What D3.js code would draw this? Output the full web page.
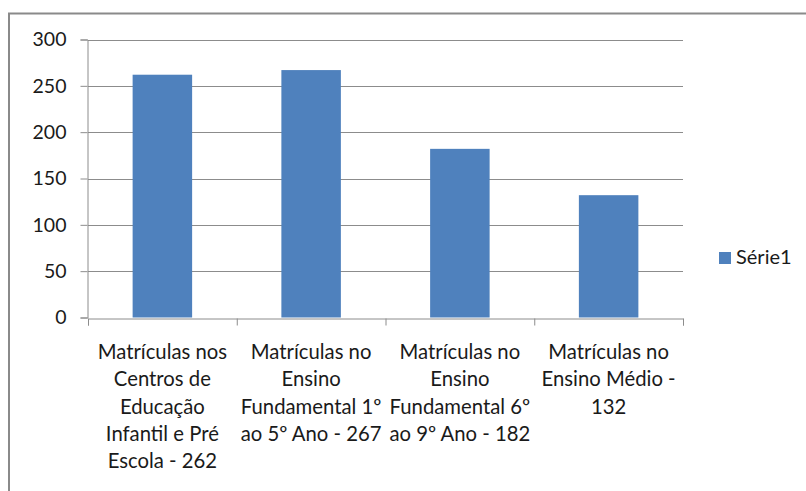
<!DOCTYPE html>
<html>
<head>
<meta charset="utf-8">
<script src="https://cdn.jsdelivr.net/npm/d3@7"></script>
<style>
  body { margin: 0; background: #fff; }
  svg text { font-family: Lato, "Open Sans", sans-serif; fill: #1a1a1a; }
</style>
</head>
<body>
<div id="chart"></div>
<script>
const categories = [
    ['Matrículas nos', 'Centros de', 'Educação', 'Infantil e Pré', 'Escola - 262'],
    ['Matrículas no', 'Ensino', 'Fundamental 1º', 'ao 5º Ano - 267'],
    ['Matrículas no', 'Ensino', 'Fundamental 6º', 'ao 9º Ano - 182'],
    ['Matrículas no', 'Ensino Médio -', '132']
];
const values = [262, 267, 182, 132];
const yTicks = [0, 50, 100, 150, 200, 250, 300];
const seriesName = 'Série1';

const width = 806;
const height = 491;
const margin = { top: 39.5, bottom: 173.5, left: 88, right: 123 };

const svg = d3.select('#chart')
    .append('svg')
    .attr('width', width)
    .attr('height', height);

// outer chart frame (only top and left edges visible)
svg.append('path')
    .attr('d', `M9,${height} V13.5 H${width}`)
    .attr('fill', 'none')
    .attr('stroke', '#8a8a8a')
    .attr('stroke-width', 2);

const x = d3.scaleBand()
    .domain(d3.range(values.length))
    .range([margin.left, width - margin.right])
    .paddingInner(0.6)
    .paddingOuter(0.3);

const y = d3.scaleLinear()
    .domain([0, 300])
    .range([height - margin.bottom, margin.top]);

// gridlines
svg.append('g')
    .selectAll('line')
    .data(yTicks.filter(d => d > 0))
    .join('line')
    .attr('x1', margin.left)
    .attr('x2', width - margin.right)
    .attr('y1', d => Math.round(y(d)) + 0.5)
    .attr('y2', d => Math.round(y(d)) + 0.5)
    .attr('stroke', '#8c8c8c');

svg.append('g')
    .attr('fill', '#4f81bd')
    .selectAll('rect')
    .data(values)
    .join('rect')
    .attr('x', (d, i) => x(i))
    .attr('y', d => y(d))
    .attr('width', x.bandwidth())
    .attr('height', d => y(0) - y(d));

function yAxis(g) {
    g.attr('transform', `translate(${margin.left - 0.5},0)`)
        .call(d3.axisLeft(y).tickValues(yTicks).tickSize(7).tickPadding(14))
        .attr('font-size', 19.5)
        .attr('font-family', null);
    g.select('.domain').attr('stroke', '#8c8c8c');
    g.selectAll('.tick line').attr('stroke', '#8c8c8c');
}

// category boundary ticks
const xb = d3.scaleLinear().domain([0, values.length]).range([margin.left, width - margin.right]);

function xAxis(g) {
    g.attr('transform', `translate(0,${Math.round(y(0)) + 0.5})`)
        .call(d3.axisBottom(xb).ticks(values.length).tickSize(7).tickFormat(''))
        .attr('font-family', null);
    g.select('.domain').attr('stroke', '#8c8c8c');
    g.selectAll('.tick line').attr('stroke', '#8c8c8c');
}

svg.append('g').call(yAxis);
svg.append('g').call(xAxis);

// wrapped category labels
const labels = svg.append('g')
    .attr('font-size', 20.3)
    .attr('text-anchor', 'middle');

labels.selectAll('text')
    .data(categories)
    .join('text')
    .attr('x', (d, i) => x(i) + x.bandwidth() / 2)
    .attr('y', 359)
    .selectAll('tspan')
    .data(d => d)
    .join('tspan')
    .attr('x', function () { return d3.select(this.parentNode).attr('x'); })
    .attr('dy', (d, i) => i === 0 ? 0 : 27.3)
    .text(d => d);

// legend
const legend = svg.append('g').attr('transform', 'translate(719,252)');
legend.append('rect')
    .attr('width', 12)
    .attr('height', 12)
    .attr('fill', '#4f81bd');
legend.append('text')
    .attr('x', 17)
    .attr('y', 11.5)
    .attr('font-size', 20)
    .text(seriesName);
</script>
</body>
</html>
